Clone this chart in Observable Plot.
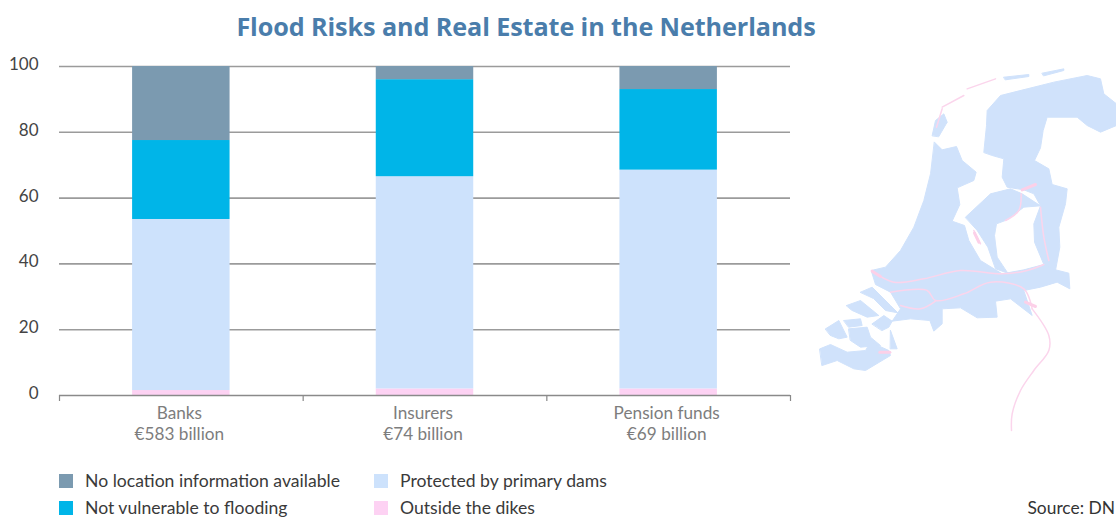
<!DOCTYPE html>
<html><head><meta charset="utf-8">
<script src="https://cdn.jsdelivr.net/npm/d3@7"></script>
<script src="https://cdn.jsdelivr.net/npm/@observablehq/plot@0.6"></script>
<style>
html,body{margin:0;padding:0;background:#fff;}
#wrap{position:relative;width:1116px;height:517px;overflow:hidden;font-family:Lato,sans-serif;}
#title{position:absolute;left:0;top:9px;width:1052px;text-align:center;font:bold 25.2px "Open Sans",sans-serif;color:#4a7dab;letter-spacing:-.1px;}
#chart,#map{position:absolute;left:0;top:0;}
#map{filter:blur(.6px);}
.lg{position:absolute;font-size:17.6px;color:#3a3a3a;white-space:nowrap;line-height:18px;}
.sw{position:absolute;width:14px;height:14px;}
#src{position:absolute;right:1px;top:499px;font-size:17.4px;line-height:18px;color:#333;}
</style></head><body>
<div id="wrap">
<div id="map"></div><div id="chart"></div>
<div id="title">Flood Risks and Real Estate in the Netherlands</div>
<div id="legend"></div>
<div id="src">Source: DN</div>
</div>
<script>
const categories = ["Banks","Insurers","Pension funds"];
const totals = ["€583 billion","€74 billion","€69 billion"];
const seriesNames = ["Outside the dikes","Protected by primary dams","Not vulnerable to flooding","No location information available"];
const outside = [1.5,2,2];
const protectedDams = [52,64.5,66.5];
const notVulnerable = [24,29.5,24.5];
const noLocation = [22.5,4,7];
const yTicks = [0,20,40,60,80,100];
const colors = ["#fdd2f3","#cde2fc","#00b5e8","#7b9ab0"];

// Map outlines, in map units
const mapShapes = [
 [[372,245],[395,268],[438,258],[455,300],[497,335],[490,360],[440,382],[448,432],[425,482],[462,495],[475,540],[510,600],[575,640],[640,628],[700,612],[735,628],[775,638],[778,685],[740,665],[690,680],[640,690],[665,765],[600,715],[555,722],[560,770],[500,772],[450,742],[395,745],[395,790],[370,812],[358,780],[300,775],[245,782],[270,745],[240,695],[195,672],[182,630],[225,620],[270,570],[310,500],[340,420],[360,340]],
 [[520,275],[528,195],[530,150],[570,105],[650,85],[730,65],[830,45],[870,55],[880,100],[918,130],[918,195],[870,215],[830,195],[800,170],[710,170],[698,210],[690,262],[672,300],[715,325],[725,372],[770,385],[765,430],[745,500],[748,560],[735,630],[700,612],[672,545],[670,490],[690,436],[670,400],[640,388],[590,380],[575,350],[580,295],[545,285]],
 [[465,470],[540,400],[600,385],[635,400],[690,436],[640,440],[590,478],[558,490],[552,525],[560,590],[592,638],[555,625],[532,560],[500,510]],
 [[150,695],[185,680],[240,735],[262,757],[225,750],[190,715]],
 [[108,735],[150,720],[205,765],[170,770],[125,750]],
 [[45,805],[85,780],[110,830],[85,835],[60,825]],
 [[100,780],[150,775],[155,795],[115,800]],
 [[115,805],[170,800],[180,830],[210,855],[150,860],[120,840]],
 [[28,865],[60,852],[110,875],[165,870],[180,845],[235,870],[240,885],[165,930],[130,925],[80,900],[35,915]],
 [[185,790],[220,765],[245,782],[235,800],[215,810]],
 [[240,810],[260,865],[240,865]],
 [[365,225],[375,180],[400,160],[410,185],[385,228]],
 [[580,50],[655,42],[655,48],[585,58]],
 [[695,38],[760,25],[760,30],[700,46]]
];
const mapRivers = [
 [[185,632],[250,665],[340,655],[450,630],[575,640],[650,630],[700,612]],
 [[240,695],[350,690],[375,720],[460,700],[540,665],[640,685],[665,745]],
 [[270,735],[330,745],[375,722]],
 [[665,745],[715,825],[715,870],[670,930],[630,990],[605,1060],[603,1110]],
 [[395,140],[460,105]],[[378,200],[395,145]],[[470,85],[555,55]],
 [[632,400],[625,450],[585,480]],
 [[690,440],[700,530],[715,600]],
 [[490,510],[510,550]]
];
const mapSpots = [
 [[185,632],[210,648]],[[635,388],[675,372]],[[645,725],[675,738]],[[208,875],[238,875]],[[492,518],[505,545]]
];
const toPoints = list => list.flatMap((s,i)=>s.map(([x,y])=>({x,y,i})));

const mapPlot = Plot.plot({
  width:1116,height:517,margin:0,
  x:{domain:[0,918],range:[810,1116],axis:null},
  y:{domain:[0,1140],range:[60,440],axis:null},
  marks:[
    Plot.line(toPoints(mapShapes),{x:"x",y:"y",z:"i",fill:"#d0e2fb",stroke:"#d0e2fb",strokeWidth:1,curve:"linear-closed"}),
    Plot.line(toPoints(mapRivers),{x:"x",y:"y",z:"i",stroke:"#fbd5ec",strokeWidth:1.5,curve:"catmull-rom"}),
    Plot.line(toPoints(mapSpots),{x:"x",y:"y",z:"i",stroke:"#fcd0e8",strokeWidth:3})
  ]
});
document.getElementById("map").append(mapPlot);

const rows = seriesNames.flatMap((s,k)=>categories.map((c,i)=>({
  series:s,cat:i,
  value:[outside,protectedDams,notVulnerable,noLocation][k][i]
})));
const labels = categories.map((c,i)=>({pos:i+0.5,text:c+"\n"+totals[i]}));

const chart = Plot.plot({
  width:1116,height:517,
  marginLeft:59,marginRight:326,marginTop:66,marginBottom:122,
  style:{background:"transparent",fontFamily:"Lato,sans-serif"},
  x:{type:"linear",domain:[0,3],axis:null},
  y:{domain:[0,100],axis:null},
  color:{domain:seriesNames,range:colors},
  marks:[
    Plot.ruleY(yTicks.filter(d=>d>0),{stroke:"#9b9b9b",strokeWidth:1.6}),
    Plot.rectY(rows,Plot.stackY({x1:d=>d.cat+0.3,x2:d=>d.cat+0.7,y:"value",fill:"series",order:seriesNames})),
    Plot.axisY({ticks:yTicks,tickSize:0,tickPadding:21,fontSize:17,color:"#444",marginLeft:59,label:null,dy:-2,tickFormat:d=>String(d)}),
    Plot.axisX({ticks:[0,1,2,3],tickFormat:()=>"",tickSize:6,stroke:"#888",strokeWidth:1.2,label:null}),
    Plot.ruleY([0],{stroke:"#8a8a8a",strokeWidth:1.6}),
    Plot.text(labels,{x:"pos",y:0,text:"text",dx:-2,dy:9,lineAnchor:"top",fontSize:17.2,fill:"#7d7d7d",lineHeight:1.2})
  ]
});
document.getElementById("chart").append(chart);

const legendItems = [
  [seriesNames[3],colors[3],59,85,474],
  [seriesNames[2],colors[2],59,85,501],
  [seriesNames[1],colors[1],374,400,474],
  [seriesNames[0],colors[0],374,400,501]
];
const lg = document.getElementById("legend");
for(const [t,c,sx,tx,y] of legendItems){
  const s=document.createElement("div");s.className="sw";s.style.cssText=`left:${sx}px;top:${y}px;background:${c}`;lg.append(s);
  const l=document.createElement("div");l.className="lg";l.style.cssText=`left:${tx}px;top:${y-2}px`;l.textContent=t;lg.append(l);
}
</script>
</body></html>
